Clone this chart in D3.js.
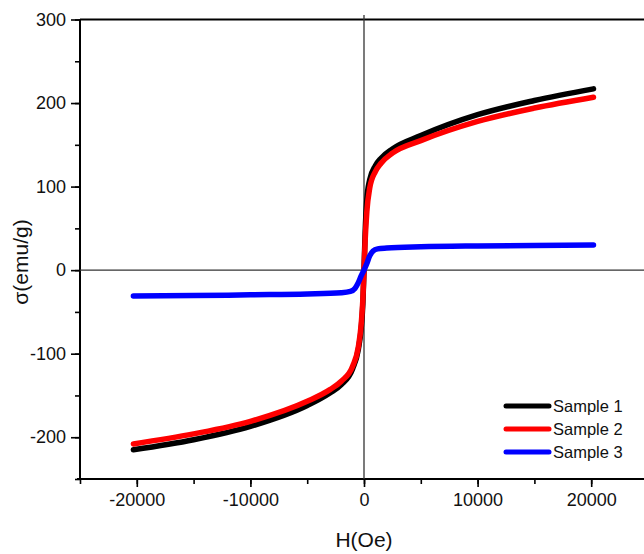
<!DOCTYPE html>
<meta charset="utf-8">
<style>
body { margin: 0; background: #fff; }
svg { display: block; font-family: "Liberation Sans", Arial, sans-serif; }
.axis path { display: none; }
.axis line { stroke: #000; stroke-width: 1.6; }
.axis text { font-size: 18px; fill: #111; }
</style>
<body>
<div id="chart"></div>
<script src="https://cdnjs.cloudflare.com/ajax/libs/d3/7.8.5/d3.min.js"></script>
<script>
// field values (Oe) and magnetisation (emu/g)
var h1 = [-20300, -15000, -10000, -5000, -3000, -2000, -1000, -500, -250, -100, 0, 100, 250, 500, 1000, 1500, 2500, 5000, 10000, 15000, 20200];
var s1 = [-215, -203, -187, -162, -147, -137, -118, -95, -70, -40, 0, 45, 85, 108, 125, 134, 145, 161, 186, 203, 217];
var h2 = [-20300, -15000, -10000, -5000, -3000, -2000, -1000, -500, -250, -100, 0, 100, 250, 500, 1000, 1500, 2500, 5000, 10000, 15000, 20200];
var s2 = [-208, -196, -181, -157, -143, -133, -115, -92, -65, -35, 0, 35, 70, 98, 118, 128, 140, 155, 178, 194, 207];
var h3 = [-20300, -15000, -10000, -5000, -2000, -1200, -800, -500, -250, 0, 250, 500, 800, 1200, 2000, 5000, 10000, 15000, 20200];
var s3 = [-31, -30.5, -29.5, -28.5, -27, -25.5, -22, -15, -7, 0, 8, 17, 23, 25.5, 26.5, 28, 29, 29.5, 30];

var seriesNames = ["Sample 1", "Sample 2", "Sample 3"];
var colors = ["#000000", "#ff0000", "#0000ff"];
var xTicks = [-20000, -10000, 0, 10000, 20000];
var yTicks = [-200, -100, 0, 100, 200, 300];

var width = 644, height = 554;
var svg = d3.select("#chart").append("svg")
    .attr("width", width)
    .attr("height", height);

var x = d3.scaleLinear().domain([-25000, 25000]).range([80, 648]);
var y = d3.scaleLinear().domain([-250, 300]).range([479, 19.5]);

var plain = function(d) { return String(d); };  // hyphen minus, as in the original

// minor ticks first, then major
svg.append("g")
    .attr("class", "axis")
    .attr("transform", "translate(0,479)")
    .call(d3.axisBottom(x).tickValues(d3.range(-25000, 25001, 5000)).tickSize(5).tickFormat(""));
svg.append("g")
    .attr("class", "axis")
    .attr("transform", "translate(0,479)")
    .call(d3.axisBottom(x).tickValues(xTicks).tickSize(8).tickPadding(6).tickFormat(plain));

svg.append("g")
    .attr("class", "axis")
    .attr("transform", "translate(80,0)")
    .call(d3.axisLeft(y).tickValues(d3.range(-250, 301, 50)).tickSize(5).tickFormat(""));
svg.append("g")
    .attr("class", "axis")
    .attr("transform", "translate(80,0)")
    .call(d3.axisLeft(y).tickValues(yTicks).tickSize(9).tickPadding(5).tickFormat(plain));

// axis lines and frame
svg.append("line").attr("x1", 80).attr("x2", 80).attr("y1", y(300)).attr("y2", 480)
    .attr("stroke", "#000").attr("stroke-width", 2);
svg.append("line").attr("x1", 77).attr("x2", width).attr("y1", 479).attr("y2", 479)
    .attr("stroke", "#000").attr("stroke-width", 2);
svg.append("line").attr("x1", 80).attr("x2", width).attr("y1", y(300)).attr("y2", y(300))
    .attr("stroke", "#000").attr("stroke-width", 1.8);
svg.append("line").attr("x1", x(0)).attr("x2", x(0)).attr("y1", 15).attr("y2", 479)
    .attr("stroke", "#333").attr("stroke-width", 1.3);
svg.append("line").attr("x1", 80).attr("x2", width).attr("y1", y(0)).attr("y2", y(0))
    .attr("stroke", "#333").attr("stroke-width", 1.2);

var line = d3.line()
    .x(function(d) { return x(d[0]); })
    .y(function(d) { return y(d[1]); })
    .curve(d3.curveMonotoneX);

var series = [d3.zip(h1, s1), d3.zip(h2, s2), d3.zip(h3, s3)];
series.forEach(function(pts, i) {
    svg.append("path")
        .datum(pts)
        .attr("d", line)
        .attr("fill", "none")
        .attr("stroke", colors[i])
        .attr("stroke-width", 5.5)
        .attr("stroke-linecap", "round")
        .attr("stroke-linejoin", "round");
});

// legend
var legend = svg.append("g");
seriesNames.forEach(function(name, i) {
    var ly = 406 + i * 23;
    legend.append("line")
        .attr("x1", 506).attr("x2", 549)
        .attr("y1", ly).attr("y2", ly)
        .attr("stroke", colors[i])
        .attr("stroke-width", 5)
        .attr("stroke-linecap", "round");
    legend.append("text")
        .attr("x", 553).attr("y", ly + 6)
        .attr("font-size", "16.5px")
        .attr("fill", "#111")
        .text(name);
});

// axis titles
svg.append("text")
    .attr("x", x(0)).attr("y", 547)
    .attr("text-anchor", "middle")
    .attr("font-size", "21px")
    .attr("fill", "#111")
    .text("H(Oe)");
svg.append("text")
    .attr("transform", "translate(28,262) rotate(-90)")
    .attr("text-anchor", "middle")
    .attr("font-size", "21px")
    .attr("fill", "#111")
    .text("σ(emu/g)");
</script>
</body>
